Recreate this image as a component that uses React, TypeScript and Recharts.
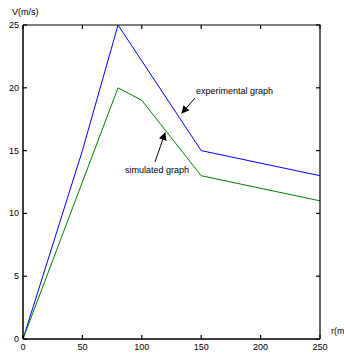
import React from 'react';
import { LineChart, Line, XAxis, YAxis } from 'recharts';

const rExperimental = [0, 50, 80, 150, 250];
const vExperimental = [0, 15, 25, 15, 13];
const rSimulated = [0, 50, 80, 100, 150, 250];
const vSimulated = [0, 12.5, 20, 19, 13, 11];
const xTicks = [0, 50, 100, 150, 200, 250];
const yTicks = [0, 5, 10, 15, 20, 25];

const FONT = 'Liberation Sans, Arial, sans-serif';
const TICK = 4;
const W = 344;
const H = 354;
const M = { top: 25, right: 24, bottom: 0, left: 0 };
const PLOT_TOP = M.top;
const PLOT_RIGHT = W - M.right;

// merge both series on the r axis
const rAll = Array.from(new Set([...rExperimental, ...rSimulated])).sort((a, b) => a - b);
const data = rAll.map((r) => {
  const ie = rExperimental.indexOf(r);
  const is = rSimulated.indexOf(r);
  return {
    r,
    experimental: ie >= 0 ? vExperimental[ie] : undefined,
    simulated: is >= 0 ? vSimulated[is] : undefined,
  };
});

// inward ticks on bottom and top edges, label below
const BottomTick = (props: any) => {
  const { x, y, payload } = props;
  return (
    <g>
      <line x1={x} y1={y} x2={x} y2={y - TICK} stroke="#000" strokeWidth={1.2} />
      <line x1={x} y1={PLOT_TOP} x2={x} y2={PLOT_TOP + TICK} stroke="#000" strokeWidth={1.2} />
      <text x={x} y={y + 11} textAnchor="middle" fontSize={9} fontFamily={FONT} fill="#000">
        {payload.value}
      </text>
    </g>
  );
};

// inward ticks on left and right edges, label left
const LeftTick = (props: any) => {
  const { x, y, payload } = props;
  return (
    <g>
      <line x1={x} y1={y} x2={x + TICK} y2={y} stroke="#000" strokeWidth={1.2} />
      <line x1={PLOT_RIGHT} y1={y} x2={PLOT_RIGHT - TICK} y2={y} stroke="#000" strokeWidth={1.2} />
      <text x={x - 4} y={y + 3} textAnchor="end" fontSize={9} fontFamily={FONT} fill="#000">
        {payload.value}
      </text>
    </g>
  );
};

export default function App() {
  return (
    <div style={{ position: 'absolute', left: 0, top: 0, width: W, height: H, background: '#fff' }}>
      <LineChart width={W} height={H} data={data} margin={M}>
        <XAxis
          dataKey="r"
          type="number"
          domain={[0, 250]}
          ticks={xTicks}
          height={15}
          tickSize={0}
          tickMargin={0}
          tickLine={false}
          axisLine={{ stroke: '#000', strokeWidth: 1.5 }}
          tick={<BottomTick />}
          interval={0}
        />
        <YAxis
          type="number"
          domain={[0, 25]}
          ticks={yTicks}
          width={23}
          tickSize={0}
          tickMargin={0}
          tickLine={false}
          axisLine={{ stroke: '#000', strokeWidth: 1.5 }}
          tick={<LeftTick />}
          interval={0}
        />
        <Line
          dataKey="experimental"
          stroke="#0000ff"
          strokeWidth={1}
          dot={false}
          connectNulls
          isAnimationActive={false}
        />
        <Line
          dataKey="simulated"
          stroke="#008000"
          strokeWidth={1}
          dot={false}
          connectNulls
          isAnimationActive={false}
        />
      </LineChart>
      <svg
        width={W}
        height={H}
        style={{ position: 'absolute', left: 0, top: 0, pointerEvents: 'none', overflow: 'visible' }}
      >
        <defs>
          <marker id="arrow" markerWidth="8" markerHeight="8" refX="7" refY="4" orient="auto" markerUnits="userSpaceOnUse">
            <path d="M0,0 L8,4 L0,8 Z" fill="#000" />
          </marker>
        </defs>
        {/* top and right edges of the axes box */}
        <polyline
          points={`23,${PLOT_TOP} ${PLOT_RIGHT},${PLOT_TOP} ${PLOT_RIGHT},339`}
          fill="none"
          stroke="#000"
          strokeWidth={1.2}
        />
        <text x={12} y={15} fontSize={9} fontFamily={FONT} fill="#000">V(m/s)</text>
        <text x={331} y={334} fontSize={9} fontFamily={FONT} fill="#000">r(m/s)</text>
        <text x={196} y={94} fontSize={9} fontFamily={FONT} fill="#000">experimental graph</text>
        <line x1={195} y1={98} x2={182} y2={113} stroke="#000" strokeWidth={1} markerEnd="url(#arrow)" />
        <text x={125} y={173} fontSize={9} fontFamily={FONT} fill="#000">simulated graph</text>
        <line x1={155} y1={162} x2={165} y2={133} stroke="#000" strokeWidth={1} markerEnd="url(#arrow)" />
      </svg>
    </div>
  );
}
